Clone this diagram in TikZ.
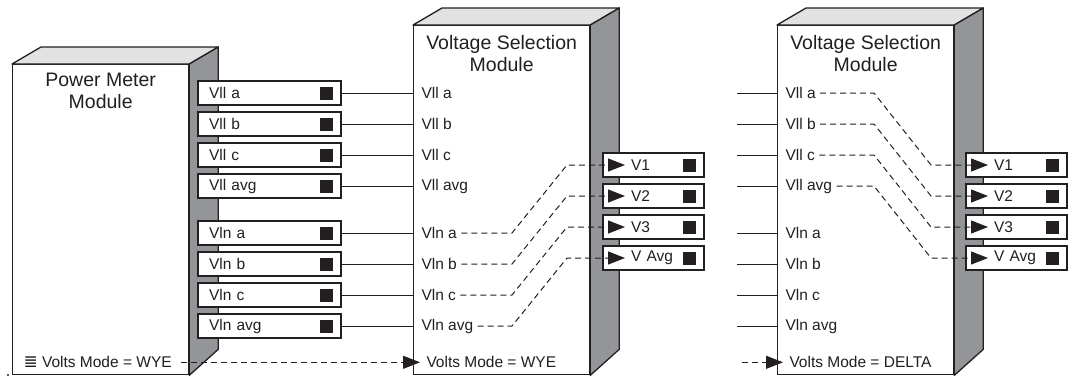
\documentclass[tikz,border=0pt]{standalone}
\usepackage{fontspec}
\setmainfont{Liberation Sans}
\newfontfamily\symfont{DejaVu Sans}
\usepackage{xcolor}
\usetikzlibrary{arrows.meta,positioning,calc}
\definecolor{ink}{HTML}{231F20}
\definecolor{topgray}{HTML}{E2E2E2}
\definecolor{sidegray}{HTML}{939598}
% top and side faces of a module whose front face is node #1
\newcommand{\modcube}[1]{%
  \filldraw[fill=topgray,line width=1.3pt,line join=round] (#1.north west) -- ++(29,-17) -- ($(#1.north east)+(29,-17)$) -- (#1.north east) -- cycle;
  \filldraw[fill=sidegray,line width=1.3pt,line join=round] (#1.north east) -- ++(29,-17) -- ($(#1.south east)+(29,-26)$) -- (#1.south east) -- cycle;}
\tikzset{
  modface/.style={draw=ink,fill=white,line width=1.3pt,minimum width=176pt,minimum height=#1,inner sep=0pt,anchor=north west},
  title/.style={font=\fontsize{19.5}{22}\selectfont,align=center,inner sep=0pt,text=ink},
  port/.style={draw=ink,fill=white,line width=1.1pt,minimum height=24pt,outer sep=0pt,align=left,text=ink,
               font=\fontsize{15.5}{18}\selectfont,
               path picture={\fill[ink] ([xshift=-21pt,yshift=-6.5pt]path picture bounding box.east) rectangle ++(13pt,13pt);}},
  inport/.style={port,inner xsep=11pt,text width=121pt},
  outport/.style={port,inner xsep=28pt,text width=45pt},
  lbl/.style={font=\fontsize{15.5}{18}\selectfont,text=ink,anchor=west,inner xsep=8pt,inner ysep=2pt},
  mode/.style={font=\fontsize{15.5}{18}\selectfont,text=ink,anchor=west,inner xsep=6pt},
  sel/.style={line width=1pt,dash pattern=on 6pt off 4pt,-{Triangle[length=17pt,width=13pt]}},
}
\begin{document}
\begin{tikzpicture}[x=1pt,y=-1pt,color=ink,line width=1pt]
  \useasboundingbox (0,0) rectangle (1073,381);
  % modules
  \node[modface=310pt] (pm) at (12,64) {}; \modcube{pm}
  \node[modface=349pt] (vs1) at (413,25) {}; \modcube{vs1}
  \node[modface=349pt] (vs2) at (777,25) {}; \modcube{vs2}
  \node[title,below=9pt of pm.north] (pmt) {Power Meter\\Module};
  \node[title,below=10pt of vs1.north] (vs1t) {Voltage Selection\\Module};
  \node[title,below=10pt of vs2.north] (vs2t) {Voltage Selection\\Module};
  \fill[ink] (8,375) circle (1.1pt);
  % power meter outputs
  \node[inport,anchor=north west] (pva) at (198,81) {Vll a};
  \node[inport,below=7pt of pva] (pvb) {Vll b};
  \node[inport,below=7pt of pvb] (pvc) {Vll c};
  \node[inport,below=7pt of pvc] (pvv) {Vll avg};
  \node[inport,below=23pt of pvv] (pna) {Vln a};
  \node[inport,below=7pt of pna] (pnb) {Vln b};
  \node[inport,below=7pt of pnb] (pnc) {Vln c};
  \node[inport,below=7pt of pnc] (pnv) {Vln avg};
  % selection module inputs
  \foreach \n/\t in {va/Vll a,vb/Vll b,vc/Vll c,vv/Vll avg,na/Vln a,nb/Vln b,nc/Vln c,nv/Vln avg}{
    \node[lbl] (s\n) at (p\n.east -| vs1.west) {\t};
    \node[lbl] (t\n) at (p\n.east -| vs2.west) {\t};
    \draw (p\n.east) -- (s\n.west);
    \coordinate (i\n) at ([xshift=-40pt]t\n.west);
    \draw (i\n) -- (t\n.west);
  }
  % selection module outputs
  \node[outport,anchor=north west] (so1) at (603,153) {V1};
  \node[outport,below=7pt of so1] (so2) {V2};
  \node[outport,below=7pt of so2] (so3) {V3};
  \node[outport,below=7pt of so3] (so4) {V Avg};
  \node[outport,anchor=north west] (to1) at (966,153) {V1};
  \node[outport,below=7pt of to1] (to2) {V2};
  \node[outport,below=7pt of to2] (to3) {V3};
  \node[outport,below=7pt of to3] (to4) {V Avg};
  \foreach \a/\b in {na/1,nb/2,nc/3,nv/4}
    \draw[sel] ([xshift=-4pt]s\a.east) -- ([xshift=99pt]s\a.west) -- ([xshift=-36pt]so\b.west) -- ([xshift=22pt]so\b.west);
  \foreach \a/\b in {va/1,vb/2,vc/3,vv/4}
    \draw[sel] ([xshift=-4pt]t\a.east) -- ([xshift=97pt]t\a.west) -- ([xshift=-35pt]to\b.west) -- ([xshift=22pt]to\b.west);
  % volts mode
  \node[mode,inner xsep=3pt] (pmm) at ([xshift=8pt,yshift=13pt]pm.south west) {{\symfont\fontsize{17}{18}\selectfont ≣} Volts Mode = WYE};
  \node[mode] (vm1) at ([xshift=7pt,yshift=13pt]vs1.south west) {Volts Mode = WYE};
  \node[mode] (vm2) at ([xshift=6pt,yshift=13pt]vs2.south west) {Volts Mode = DELTA};
  \draw[sel] ([xshift=6pt]pmm.east) -- (vm1.west);
  \coordinate (m2) at ([xshift=-41pt]vm2.west);
  \draw[sel] (m2) -- (vm2.west);
\end{tikzpicture}
\end{document}
